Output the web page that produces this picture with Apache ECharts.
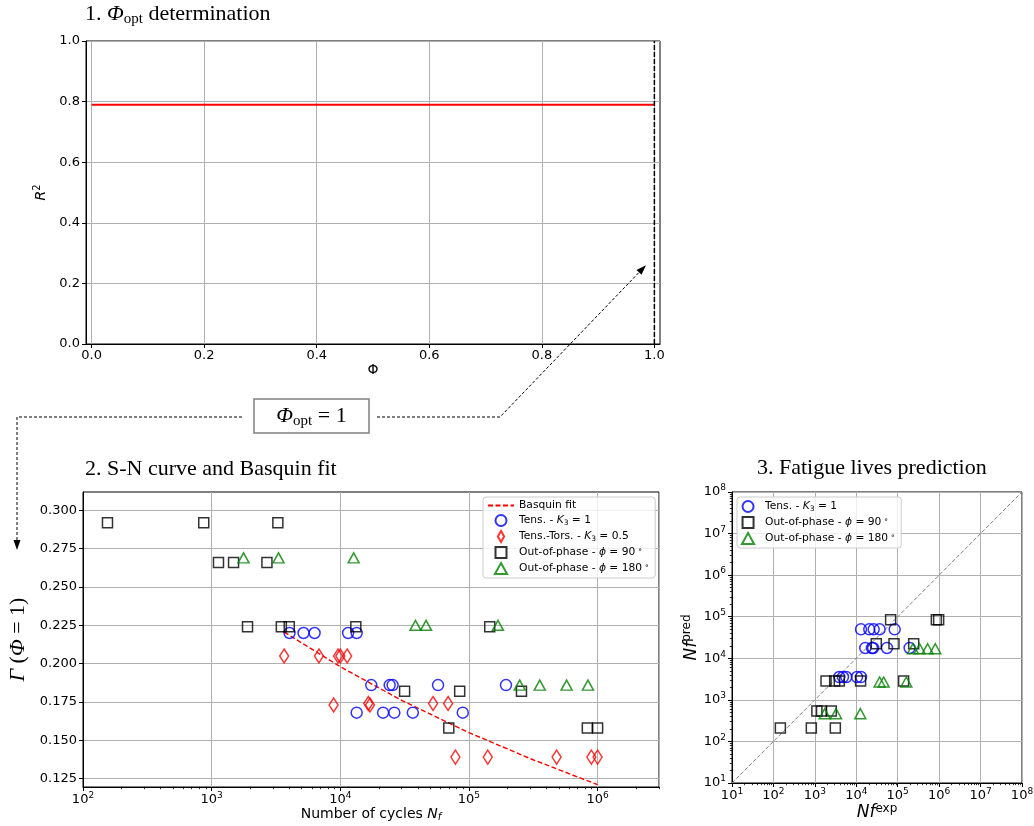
<!DOCTYPE html>
<html>
<head>
<meta charset="utf-8">
<script src="https://cdn.jsdelivr.net/npm/echarts@6.0.0/dist/echarts.min.js"></script>
<style>
html,body{margin:0;padding:0;background:#ffffff;}
#chart{width:1034px;height:826px;}
</style>
</head>
<body>
<div id="chart"></div>
<script>
// ---------- Panel 1 : Phi_opt determination ----------
const phiTickValues = [0, 0.2, 0.4, 0.6, 0.8, 1.0];
const r2TickValues = [0, 0.2, 0.4, 0.6, 0.8, 1.0];
const phiValues = [0, 1];
const r2Values = [0.79, 0.79];
const phiOpt = 1;
const phiOptArrowTarget = [0.985, 0.26];

// ---------- Panel 2 : S-N curve and Basquin fit ----------
const gammaTickValues = [0.125, 0.15, 0.175, 0.2, 0.225, 0.25, 0.275, 0.3];
const cycleDecades = [1e2, 1e3, 1e4, 1e5, 1e6];
const basquinN = [3660, 1e4, 3e4, 1e5, 3e5, 1e6];
const basquinGamma = [0.2206, 0.198, 0.176, 0.155, 0.138, 0.121];
const tensN = [4030, 5180, 6310, 11500, 13400, 17400, 24200, 25500, 57500, 194000, 13400, 21500, 26300, 36600, 89500];
const tensGamma = [0.22, 0.22, 0.22, 0.22, 0.22, 0.186, 0.186, 0.186, 0.186, 0.186, 0.168, 0.168, 0.168, 0.168, 0.168];
const torsN = [3660, 6820, 9600, 10000, 11300, 8870, 16500, 17000, 52600, 68800, 78500, 140000, 480000, 894000, 1000000];
const torsGamma = [0.205, 0.205, 0.205, 0.205, 0.205, 0.173, 0.174, 0.173, 0.174, 0.174, 0.139, 0.139, 0.139, 0.139, 0.139];
const oop90N = [155, 868, 3270, 1130, 1480, 2690, 1900, 3480, 4010, 13200, 145000, 31600, 84700, 256000, 69700, 832000, 1000000];
const oop90Gamma = [0.292, 0.292, 0.292, 0.266, 0.266, 0.266, 0.224, 0.224, 0.224, 0.224, 0.224, 0.182, 0.182, 0.182, 0.158, 0.158, 0.158];
const oop180N = [1770, 3310, 12700, 38400, 46400, 168000, 248000, 355000, 574000, 841000];
const oop180Gamma = [0.269, 0.269, 0.269, 0.225, 0.225, 0.225, 0.186, 0.186, 0.186, 0.186];

// ---------- Panel 3 : Fatigue lives prediction ----------
const lifeDecades = [1e1, 1e2, 1e3, 1e4, 1e5, 1e6, 1e7, 1e8];
const identityLine = [10, 1e8];
const predTensExp = [13000, 20600, 26300, 36600, 84400, 16500, 23900, 25500, 55100, 194000, 3890, 4770, 5740, 10400, 13000];
const predTensPred = [49600, 49600, 49600, 49600, 49600, 17700, 17700, 17700, 17700, 17700, 3540, 3540, 3540, 3540, 3540];
const pred90Exp = [67400, 855000, 973000, 30400, 81300, 243000, 1860, 3010, 3890, 12700, 139000, 1120, 1450, 2490, 147, 822, 3120];
const pred90Pred = [84900, 84900, 84900, 22400, 22400, 22400, 2840, 2840, 2840, 2840, 2840, 538, 538, 538, 210, 210, 210];
const pred180Exp = [233000, 338000, 527000, 807000, 36600, 45700, 161000, 1730, 3240, 12500];
const pred180Pred = [17000, 17000, 17000, 17000, 2690, 2690, 2690, 465, 465, 465];

// ---------- names ----------
const NAME_BASQUIN = 'Basquin fit';
const NAME_TENS = 'Tens. - K3 = 1';
const NAME_TORS = 'Tens.-Tors. - K3 = 0.5';
const NAME_90 = 'Out-of-phase - phi = 90';
const NAME_180 = 'Out-of-phase - phi = 180';
const legendRichText = {};
legendRichText[NAME_BASQUIN] = '{t|Basquin fit}';
legendRichText[NAME_TENS] = '{t|Tens. - }{i|K}{sub|3}{t| = 1}';
legendRichText[NAME_TORS] = '{t|Tens.-Tors. - }{i|K}{sub|3}{t| = 0.5}';
legendRichText[NAME_90] = '{t|Out-of-phase - }{i|ϕ}{t| = 90}{sup| ∘}';
legendRichText[NAME_180] = '{t|Out-of-phase - }{i|ϕ}{t| = 180}{sup| ∘}';

const SANS = 'DejaVu Sans';
const SERIF = 'Liberation Serif';
const GRID_COLOR = '#b0b0b0';

function pairs(xs, ys) { return xs.map((x, i) => [x, ys[i]]); }
function minorLogTicks(decades, maxV) {
  const out = [];
  decades.forEach(d => { for (let k = 2; k <= 9; k++) { const v = k * d; if (v <= maxV) out.push(Math.log10(v)); } });
  return out;
}

const legendRich = {
  t: {fontFamily: SANS, fontSize: 10.7, color: '#000', lineHeight: 13},
  i: {fontFamily: SANS, fontSize: 10.7, fontStyle: 'italic', color: '#000', lineHeight: 13},
  sub: {fontFamily: SANS, fontSize: 7.5, color: '#000', lineHeight: 8, verticalAlign: 'bottom'},
  sup: {fontFamily: SANS, fontSize: 7.5, color: '#000', lineHeight: 7, verticalAlign: 'top'}
};
const logRich = {
  b: {fontFamily: SANS, fontSize: 13, color: '#000', lineHeight: 17},
  s: {fontFamily: SANS, fontSize: 9, color: '#000', lineHeight: 9, verticalAlign: 'top'}
};
function logLabel(v) { const e = Math.round(Math.log10(v)); return '{b|10}{s|' + e + '}'; }

function axisLine() { return {show: true, onZero: false, lineStyle: {color: '#000', width: 1}}; }
function axisTick(custom) {
  const t = {show: true, inside: false, length: 4, lineStyle: {color: '#000', width: 1}};
  if (custom) t.customValues = custom;
  return t;
}
function splitLine(show) { return {show: show, lineStyle: {color: GRID_COLOR, width: 1}}; }

function hollowScatter(name, xi, yi, data, symbol, size, color) {
  return {
    name: name, type: 'scatter', xAxisIndex: xi, yAxisIndex: yi, data: data,
    symbol: symbol, symbolSize: size,
    itemStyle: {color: 'rgba(0,0,0,0)', borderColor: color, borderWidth: 1.5},
    emphasis: {disabled: true}, z: 5
  };
}

const BLUE = '#0000ff', RED = '#ff0000', BLACK = '#000000', GREEN = '#008000';
const DIAMOND_ICON = 'path://M4,0L8,7L4,14L0,7Z';
const SQUARE_ICON = 'path://M0,0L10,0L10,10L0,10Z';
const TRIANGLE_ICON = 'path://M5.5,0L11,10L0,10Z';
const legendLineItem = {name: NAME_BASQUIN, itemStyle: {opacity: 0, color: 'rgba(0,0,0,0)', borderColor: 'rgba(0,0,0,0)', borderWidth: 0}};

const option = {
  animation: false,
  backgroundColor: '#ffffff',
  grid: [
    {left: 86, top: 41, width: 574, height: 303, show: true, borderColor: '#000', borderWidth: 1, backgroundColor: 'rgba(0,0,0,0)', containLabel: false, outerBoundsMode: 'none'},
    {left: 83, top: 492, width: 576, height: 295, show: true, borderColor: '#000', borderWidth: 1, backgroundColor: 'rgba(0,0,0,0)', containLabel: false, outerBoundsMode: 'none'},
    {left: 732, top: 492, width: 290, height: 291, show: true, borderColor: '#000', borderWidth: 1, backgroundColor: 'rgba(0,0,0,0)', containLabel: false, outerBoundsMode: 'none'}
  ],
  xAxis: [
    { // 0: phi
      gridIndex: 0, type: 'value', position: 'bottom', min: -0.01, max: 1.01,
      axisLine: axisLine(), axisTick: axisTick(phiTickValues), splitLine: splitLine(true),
      axisLabel: {customValues: phiTickValues, color: '#000', fontFamily: SANS, fontSize: 13, margin: 5, formatter: v => v.toFixed(1)},
      name: 'Φ', nameLocation: 'middle', nameGap: 18,
      nameTextStyle: {fontFamily: SANS, fontSize: 14, color: '#000', verticalAlign: 'top'}
    },
    { // 1: cycles (log)
      gridIndex: 1, type: 'log', logBase: 10, position: 'bottom', min: 100, max: 3e6, splitNumber: 5,
      axisLine: axisLine(), axisTick: axisTick(), splitLine: splitLine(true),
      axisLabel: {color: '#000', margin: 4, formatter: logLabel, rich: logRich, showMaxLabel: false, showMinLabel: true},
      name: '{t|Number of cycles }{i|N}{s|f}', nameLocation: 'middle', nameGap: 16,
      nameTextStyle: {verticalAlign: 'top', rich: {
        t: {fontFamily: SANS, fontSize: 14, color: '#000', lineHeight: 18},
        i: {fontFamily: SANS, fontSize: 14, fontStyle: 'italic', color: '#000', lineHeight: 18},
        s: {fontFamily: SANS, fontSize: 10, fontStyle: 'italic', color: '#000', lineHeight: 10, verticalAlign: 'bottom'}
      }}
    },
    { // 2: cycles minor ticks (log10 space)
      gridIndex: 1, type: 'value', position: 'bottom', min: 2, max: Math.log10(3e6),
      axisLine: {show: false}, splitLine: {show: false}, axisLabel: {show: false},
      axisTick: {show: true, inside: false, length: 2.2, customValues: minorLogTicks(cycleDecades, 3e6), lineStyle: {color: '#000', width: 0.8}}
    },
    { // 3: Nf exp (log)
      gridIndex: 2, type: 'log', logBase: 10, position: 'bottom', min: 10, max: 1e8, splitNumber: 7,
      axisLine: axisLine(), axisTick: axisTick(), splitLine: splitLine(true),
      axisLabel: {color: '#000', margin: 4, formatter: logLabel, rich: logRich, showMaxLabel: true, showMinLabel: true},
      name: '{i|Nf}{s|exp}', nameLocation: 'middle', nameGap: 10,
      nameTextStyle: {verticalAlign: 'top', rich: {
        i: {fontFamily: SANS, fontSize: 17, fontStyle: 'italic', color: '#000', lineHeight: 20},
        s: {fontFamily: SANS, fontSize: 12, color: '#000', lineHeight: 12, verticalAlign: 'top'}
      }}
    },
    { // 4: Nf exp minor ticks
      gridIndex: 2, type: 'value', position: 'bottom', min: 1, max: 8,
      axisLine: {show: false}, splitLine: {show: false}, axisLabel: {show: false},
      axisTick: {show: true, inside: false, length: 2.2, customValues: minorLogTicks(lifeDecades, 1e8), lineStyle: {color: '#000', width: 0.8}}
    }
  ],
  yAxis: [
    { // 0: R2
      gridIndex: 0, type: 'value', position: 'left', min: 0, max: 1,
      axisLine: axisLine(), axisTick: axisTick(r2TickValues), splitLine: splitLine(true),
      axisLabel: {customValues: r2TickValues, color: '#000', fontFamily: SANS, fontSize: 13, margin: 6, formatter: v => v.toFixed(1)},
      name: '{i|R}{s|2}', nameLocation: 'middle', nameGap: 29, nameRotate: 90,
      nameTextStyle: {rich: {
        i: {fontFamily: SANS, fontSize: 14, fontStyle: 'italic', color: '#000', lineHeight: 18},
        s: {fontFamily: SANS, fontSize: 10, color: '#000', lineHeight: 10, verticalAlign: 'top'}
      }}
    },
    { // 1: Gamma
      gridIndex: 1, type: 'value', position: 'left', min: 0.1195, max: 0.312,
      axisLine: axisLine(), axisTick: axisTick(gammaTickValues), splitLine: splitLine(true),
      axisLabel: {customValues: gammaTickValues, color: '#000', fontFamily: SANS, fontSize: 13, margin: 6, formatter: v => v.toFixed(3)},
      name: '{i|Γ}{n| (}{i|Φ}{n| = 1)}', nameLocation: 'middle', nameGap: 50, nameRotate: 90,
      nameTextStyle: {rich: {
        i: {fontFamily: SERIF, fontSize: 22, fontStyle: 'italic', color: '#000', lineHeight: 24},
        n: {fontFamily: SERIF, fontSize: 22, color: '#000', lineHeight: 24}
      }}
    },
    { // 2: Nf pred (log)
      gridIndex: 2, type: 'log', logBase: 10, position: 'left', min: 10, max: 1e8, splitNumber: 7,
      axisLine: axisLine(), axisTick: axisTick(), splitLine: splitLine(true),
      axisLabel: {color: '#000', margin: 6, formatter: logLabel, rich: logRich, showMaxLabel: true, showMinLabel: true},
      name: '{i|Nf}{s|pred}', nameLocation: 'middle', nameGap: 27, nameRotate: 90,
      nameTextStyle: {rich: {
        i: {fontFamily: SANS, fontSize: 17, fontStyle: 'italic', color: '#000', lineHeight: 20},
        s: {fontFamily: SANS, fontSize: 12, color: '#000', lineHeight: 12, verticalAlign: 'top'}
      }}
    },
    { // 3: Nf pred minor ticks
      gridIndex: 2, type: 'value', position: 'left', min: 1, max: 8,
      axisLine: {show: false}, splitLine: {show: false}, axisLabel: {show: false},
      axisTick: {show: true, inside: false, length: 2.2, customValues: minorLogTicks(lifeDecades, 1e8), lineStyle: {color: '#000', width: 0.8}}
    }
  ],
  legend: [
    {
      orient: 'vertical', left: 483, top: 497, itemWidth: 26, itemHeight: 11, itemGap: 3,
      padding: [3, 6, 3, 4], backgroundColor: 'rgba(255,255,255,0.8)', borderColor: '#cccccc', borderWidth: 1, borderRadius: 3,
      selectedMode: false,
      data: [
        legendLineItem,
        {name: NAME_TENS, icon: 'circle'},
        {name: NAME_TORS, icon: DIAMOND_ICON},
        {name: NAME_90, icon: SQUARE_ICON},
        {name: NAME_180, icon: TRIANGLE_ICON}
      ],
      formatter: n => legendRichText[n],
      textStyle: {fontFamily: SANS, fontSize: 10.7, color: '#000', rich: legendRich}
    },
    {
      orient: 'vertical', left: 737, top: 497, itemWidth: 24, itemHeight: 11, itemGap: 3,
      padding: [3, 6, 3, 4], backgroundColor: 'rgba(255,255,255,0.8)', borderColor: '#cccccc', borderWidth: 1, borderRadius: 3,
      selectedMode: false,
      data: [{name: NAME_TENS, icon: 'circle'}, {name: NAME_90, icon: SQUARE_ICON}, {name: NAME_180, icon: TRIANGLE_ICON}],
      formatter: n => legendRichText[n],
      textStyle: {fontFamily: SANS, fontSize: 10.7, color: '#000', rich: legendRich}
    }
  ],
  series: [
    {type: 'line', xAxisIndex: 0, yAxisIndex: 0, data: pairs(phiValues, r2Values), symbol: 'none',
     lineStyle: {color: RED, width: 2}, silent: true, z: 4},
    {type: 'line', xAxisIndex: 0, yAxisIndex: 0, data: [[phiOpt, r2TickValues[0]], [phiOpt, r2TickValues[r2TickValues.length - 1]]], symbol: 'none',
     lineStyle: {color: BLACK, width: 1.5, type: [5, 2]}, silent: true, z: 4},
    {name: NAME_BASQUIN, type: 'line', xAxisIndex: 1, yAxisIndex: 1, data: pairs(basquinN, basquinGamma), symbol: 'none',
     lineStyle: {color: RED, width: 1.4, type: [5, 2.5]}, itemStyle: {color: RED}, silent: true, z: 4},
    hollowScatter(NAME_TENS, 1, 1, pairs(tensN, tensGamma), 'circle', 11, BLUE),
    hollowScatter(NAME_TORS, 1, 1, pairs(torsN, torsGamma), 'diamond', [9, 14], RED),
    hollowScatter(NAME_90, 1, 1, pairs(oop90N, oop90Gamma), 'rect', 10, BLACK),
    hollowScatter(NAME_180, 1, 1, pairs(oop180N, oop180Gamma), 'triangle', [11, 10], GREEN),
    {type: 'line', xAxisIndex: 3, yAxisIndex: 2, data: pairs(identityLine, identityLine), symbol: 'none',
     lineStyle: {color: '#808080', width: 1, type: [4, 2]}, silent: true, z: 3},
    hollowScatter(NAME_TENS, 3, 2, pairs(predTensExp, predTensPred), 'circle', 11, BLUE),
    hollowScatter(NAME_90, 3, 2, pairs(pred90Exp, pred90Pred), 'rect', 10, BLACK),
    hollowScatter(NAME_180, 3, 2, pairs(pred180Exp, pred180Pred), 'triangle', [11, 10], GREEN)
  ]
};

const chart = echarts.init(document.getElementById('chart'), null, {renderer: 'canvas'});
chart.setOption(option);

// ---------- annotations ----------
const titleRich = {
  n: {fontFamily: SERIF, fontSize: 22, color: '#000', lineHeight: 26},
  i: {fontFamily: SERIF, fontSize: 22, fontStyle: 'italic', color: '#000', lineHeight: 26},
  sub: {fontFamily: SERIF, fontSize: 15, color: '#000', lineHeight: 15, verticalAlign: 'bottom'}
};
function textEl(x, y, text, align) {
  return {type: 'text', x: x, y: y, z: 20, silent: true,
    style: {text: text, rich: titleRich, align: align, verticalAlign: 'middle', textAlign: align, textVerticalAlign: 'middle', fill: '#000'}};
}
function arrowHead(from, to, len, half) {
  const dx = to[0] - from[0], dy = to[1] - from[1];
  const L = Math.sqrt(dx * dx + dy * dy);
  const ux = dx / L, uy = dy / L;
  const bx = to[0] - ux * len, by = to[1] - uy * len;
  return {base: [bx, by], pts: [to, [bx - uy * half, by + ux * half], [bx + uy * half, by - ux * half]]};
}
const tip = chart.convertToPixel({xAxisIndex: 0, yAxisIndex: 0}, phiOptArrowTarget);
const boxY = 417;
const elbowRight = [500, boxY];
const headR = arrowHead(elbowRight, tip, 10, 3.5);
const leftTip = [17, 550];
const headL = arrowHead([17, boxY], leftTip, 10, 3.5);
const dashStyle = {stroke: '#000', fill: null, lineWidth: 1, lineDash: [3, 2]};

chart.setOption({
  graphic: [
    textEl(85, 14, '{n|1. }{i|Φ}{sub|opt}{n| determination}', 'left'),
    textEl(85, 469, '{n|2. S-N curve and Basquin fit}', 'left'),
    textEl(757, 468, '{n|3. Fatigue lives prediction}', 'left'),
    {type: 'rect', z: 19, silent: true, shape: {x: 254, y: 399, width: 115, height: 34},
     style: {fill: '#ffffff', stroke: '#808080', lineWidth: 1.5}},
    textEl(311.5, 416, '{i|Φ}{sub|opt}{n| = 1}', 'center'),
    {type: 'polyline', z: 18, silent: true, shape: {points: [[242, boxY], [17, boxY], headL.base]}, style: dashStyle},
    {type: 'polygon', z: 18, silent: true, shape: {points: headL.pts}, style: {fill: '#000'}},
    {type: 'polyline', z: 18, silent: true, shape: {points: [[377, boxY], elbowRight, headR.base]}, style: dashStyle},
    {type: 'polygon', z: 18, silent: true, shape: {points: headR.pts}, style: {fill: '#000'}}
  ]
});
</script>
</body>
</html>
